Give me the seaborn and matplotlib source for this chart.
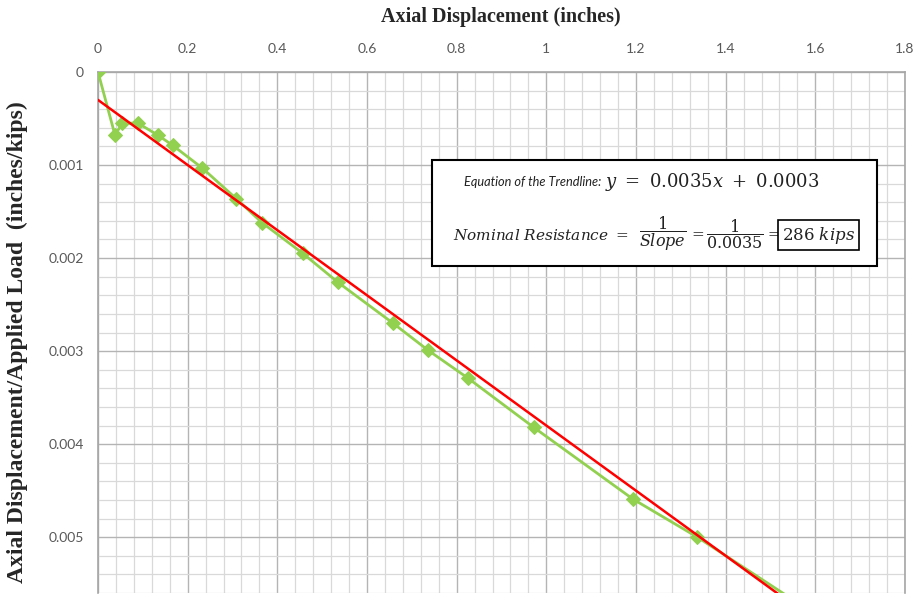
import numpy as np
import pandas as pd
import matplotlib
matplotlib.use("Agg")
import matplotlib.pyplot as plt
import seaborn as sns
from matplotlib.patches import Rectangle
from matplotlib.ticker import MultipleLocator

disp = [0.0, 0.038, 0.054, 0.089, 0.134, 0.167, 0.232, 0.308, 0.366, 0.457,
        0.535, 0.658, 0.736, 0.825, 0.972, 1.193, 1.337, 1.60]
ratio = [0.0, 0.00068, 0.00055, 0.00055, 0.00068, 0.00079, 0.00103, 0.00136,
         0.00162, 0.00195, 0.00226, 0.00270, 0.00299, 0.00329, 0.00382,
         0.00459, 0.00500, 0.00583]

# trendline from the chart
slope = 0.0035
intercept = 0.0003
trend_x = [0.0, 1.7]

df = pd.DataFrame({"disp": disp, "ratio": ratio})
tr = pd.DataFrame({"x": trend_x, "y": [slope * v + intercept for v in trend_x]})

sns.set_style("white")
plt.rcParams["mathtext.fontset"] = "dejavuserif"

fig = plt.figure(figsize=(9.24, 6.03), dpi=100)
ax = fig.add_axes([98 / 924, 1 - 593 / 603, 807 / 924, 521 / 603])

sns.lineplot(data=df, x="disp", y="ratio", sort=False, color="#92D050",
             lw=2, marker="D", markersize=7, markeredgecolor="#92D050",
             ax=ax, zorder=3)
sns.lineplot(data=tr, x="x", y="y", color="#FF0000", lw=1.8, ax=ax, zorder=4)

ax.set_xlim(0, 1.8)
ax.set_ylim(0.0056, 0)

ax.xaxis.set_major_locator(MultipleLocator(0.2))
ax.xaxis.set_minor_locator(MultipleLocator(0.04))
ax.yaxis.set_major_locator(MultipleLocator(0.001))
ax.yaxis.set_minor_locator(MultipleLocator(0.0002))
ax.grid(which="major", color="#B4B4B4", lw=1.0)
ax.grid(which="minor", color="#D9D9D9", lw=0.9)
ax.set_axisbelow(True)

ax.xaxis.tick_top()
ax.xaxis.set_label_position("top")
ax.set_xticks(np.arange(0, 1.81, 0.2))
ax.set_xticklabels(["0", "0.2", "0.4", "0.6", "0.8", "1", "1.2", "1.4", "1.6", "1.8"])
ax.set_yticks([0, 0.001, 0.002, 0.003, 0.004, 0.005])
ax.set_yticklabels(["0", "0.001", "0.002", "0.003", "0.004", "0.005"])
ax.tick_params(axis="x", which="both", length=0, pad=12, labelsize=10,
               labelcolor="#595959")
ax.tick_params(axis="y", which="major", length=4, color="#A6A6A6", pad=6,
               labelsize=10, labelcolor="#595959")
ax.tick_params(axis="y", which="minor", length=0)
for lab in ax.get_xticklabels() + ax.get_yticklabels():
    lab.set_family("Lato")

for s in ax.spines.values():
    s.set_color("#A6A6A6")
    s.set_linewidth(1.2)
ax.spines["bottom"].set_visible(False)

ax.set_xlabel("Axial Displacement (inches)", family="Liberation Serif",
              fontweight="bold", fontsize=14.5)
ax.set_ylabel("Axial Displacement/Applied Load  (inches/kips)",
              family="Liberation Serif", fontweight="bold", fontsize=17)
ax.yaxis.label.set_va("center")


# equation box, positions from picture pixels
def fx(px):
    return (px - 98) / 807


def fy(py):
    return 1 - (py - 72) / 521


ax.xaxis.set_label_coords(fx(501), fy(22))
ax.yaxis.set_label_coords(fx(17), fy(342))

ax.add_patch(Rectangle((fx(432), fy(266)), fx(877) - fx(432), fy(160) - fy(266),
                       transform=ax.transAxes, facecolor="white",
                       edgecolor="black", lw=1.5, zorder=5))
txt = dict(transform=ax.transAxes, va="center", color="#222222", zorder=6)
ax.text(fx(601), fy(182), "Equation of the Trendline:", ha="right",
        family="Lato", style="italic", fontsize=9.2, **txt)
ax.text(fx(605), fy(182), r"$y\ =\ 0.0035x\ +\ 0.0003$", ha="left",
        fontsize=13, **txt)
ax.text(fx(453), fy(235), r"$Nominal\ Resistance\ =$", ha="left",
        fontsize=11, **txt)
ax.text(fx(663), fy(234), r"$\dfrac{1}{Slope}$", ha="center", fontsize=11.5, **txt)
ax.text(fx(697), fy(233), r"$=$", ha="center", fontsize=11, **txt)
ax.text(fx(735), fy(234), r"$\dfrac{1}{0.0035}$", ha="center", fontsize=11.5, **txt)
ax.text(fx(772), fy(233), r"$=$", ha="center", fontsize=10, **txt)
ax.text(fx(782), fy(235), r"$286\ kips$", ha="left", fontsize=12,
        bbox=dict(boxstyle="square,pad=0.25", fc="white", ec="black", lw=1.2),
        **txt)

fig.savefig("out.png", dpi=100)
